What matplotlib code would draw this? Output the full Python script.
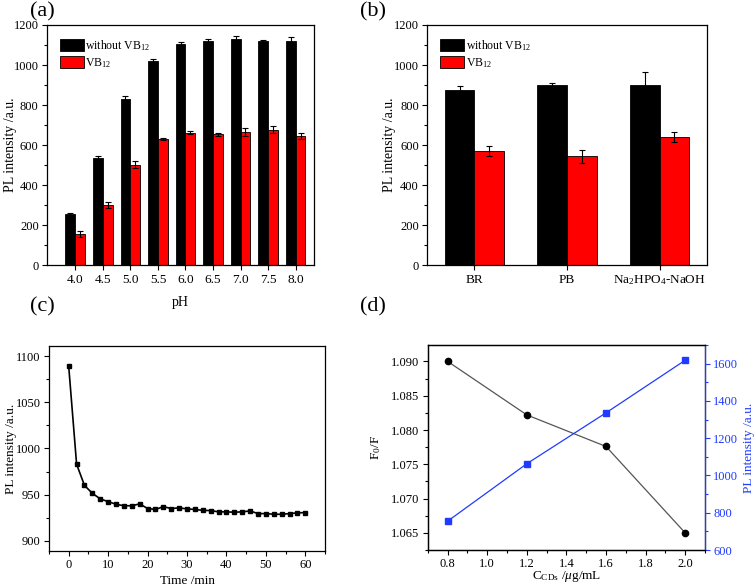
import matplotlib
matplotlib.use("Agg")
import matplotlib.pyplot as plt
import numpy as np
from matplotlib.ticker import MultipleLocator, FormatStrFormatter

plt.rcParams['font.family'] = ['Liberation Serif', 'DejaVu Serif']
plt.rcParams['mathtext.fontset'] = 'custom'
plt.rcParams['mathtext.rm'] = 'Liberation Serif'
plt.rcParams['mathtext.it'] = 'Liberation Serif:italic'
plt.rcParams['font.size'] = 9

# (a) pH
ph_labels = ['4.0', '4.5', '5.0', '5.5', '6.0', '6.5', '7.0', '7.5', '8.0']
ph_without = [255, 536, 828, 1019, 1107, 1119, 1129, 1119, 1120]
ph_without_err = [5, 8, 15, 12, 8, 10, 15, 8, 22]
ph_vb12 = [156, 302, 502, 630, 662, 654, 664, 676, 645]
ph_vb12_err = [17, 15, 18, 5, 7, 7, 20, 17, 17]

# (b) buffer
buffers = ['BR', 'PB', 'Na$_2$HPO$_4$-NaOH']
buf_without = [875, 898, 898]
buf_without_err = [20, 10, 67]
buf_vb12 = [570, 543, 638]
buf_vb12_err = [25, 30, 25]

# (c) time
time_min = [0, 2, 4, 6, 8, 10, 12, 14, 16, 18, 20, 22, 24, 26, 28, 30,
            32, 34, 36, 38, 40, 42, 44, 46, 48, 50, 52, 54, 56, 58, 60]
time_pl = [1089, 983, 960, 951.5, 945.4, 942.5, 939.6, 938, 938, 940, 935,
           934, 937, 935, 935.7, 934.6, 934, 933, 932.8, 931.4, 931.4, 931,
           931.4, 932.4, 929.5, 929.5, 928.8, 928.8, 929.5, 930.3, 930.6]

# (d) concentration
conc = [0.8, 1.2, 1.6, 2.0]
f0_f = [1.090, 1.0822, 1.0776, 1.065]
conc_pl = [755, 1063, 1336, 1618]

fig = plt.figure(figsize=(7.56, 5.88), dpi=100)
ax_a = fig.add_axes([0.0622, 0.549, 0.3528, 0.4085])
ax_b = fig.add_axes([0.565, 0.549, 0.370, 0.4085])
ax_c = fig.add_axes([0.0648, 0.0629, 0.3652, 0.3487])
ax_d = fig.add_axes([0.566, 0.0646, 0.3665, 0.3487])

err_kw = dict(ecolor='black', elinewidth=0.8, capsize=2.5, capthick=0.8)


def bar_panel(ax, labels, y1, e1, y2, e2, width):
    x = np.arange(len(labels))
    ax.bar(x - width / 2, y1, width, yerr=e1, color='black', edgecolor='black',
           linewidth=0.6, error_kw=err_kw, label='without VB$_{12}$')
    ax.bar(x + width / 2, y2, width, yerr=e2, color='#ff0000', edgecolor='black',
           linewidth=0.6, error_kw=err_kw, label='VB$_{12}$')
    ax.set_xticks(x)
    ax.set_xticklabels(labels, fontsize=9.5)
    ax.set_ylim(0, 1200)
    ax.yaxis.set_major_locator(MultipleLocator(200))
    ax.yaxis.set_minor_locator(MultipleLocator(100))
    ax.set_ylabel('PL intensity /a.u.', fontsize=10)
    ax.yaxis.set_label_coords(-0.113, 0.5)
    ax.legend(loc='upper left', frameon=False, fontsize=8.5, handlelength=2.0,
              handleheight=1.2, borderaxespad=0.7, labelspacing=0.3,
              handletextpad=0.15)


bar_panel(ax_a, ph_labels, ph_without, ph_without_err, ph_vb12, ph_vb12_err, 0.36)
ax_a.set_xlim(-1.03, 8.66)
ax_a.set_xlabel('pH', fontsize=10)
ax_a.xaxis.set_label_coords(0.5, -0.127)

bar_panel(ax_b, buffers, buf_without, buf_without_err, buf_vb12, buf_vb12_err, 0.32)
ax_b.set_xlim(-0.51, 2.51)

ax_c.plot(time_min, time_pl, color='black', lw=1.2, marker='s', ms=3)
ax_c.set_xlim(-5, 65)
ax_c.set_ylim(889, 1111)
ax_c.yaxis.set_major_locator(MultipleLocator(50))
ax_c.yaxis.set_minor_locator(MultipleLocator(25))
ax_c.xaxis.set_major_locator(MultipleLocator(10))
ax_c.xaxis.set_minor_locator(MultipleLocator(5))
ax_c.set_xlabel('Time /min', fontsize=9.5)
ax_c.xaxis.set_label_coords(0.5, -0.115)
ax_c.set_ylabel('PL intensity /a.u.', fontsize=9.5)
ax_c.yaxis.set_label_coords(-0.116, 0.5)

blue = '#1f3bff'
ax_d.plot(conc, f0_f, color='#555555', lw=0.9, marker='o', ms=4.5,
          mfc='black', mec='black')
ax_d.set_xlim(0.7, 2.1)
ax_d.set_ylim(1.0625, 1.0924)
ax_d.yaxis.set_major_locator(MultipleLocator(0.005))
ax_d.yaxis.set_minor_locator(MultipleLocator(0.0025))
ax_d.xaxis.set_major_locator(MultipleLocator(0.2))
ax_d.xaxis.set_minor_locator(MultipleLocator(0.1))
ax_d.yaxis.set_major_formatter(FormatStrFormatter('%.3f'))
ax_d.xaxis.set_major_formatter(FormatStrFormatter('%.1f'))
ax_d.set_ylabel('F$_0$/F', fontsize=9.5)
ax_d.yaxis.set_label_coords(-0.162, 0.5)
ax_d.set_xlabel('C$_{\\rm CDs}$ /$\\mathit{\\mu}$g/mL', fontsize=9.5)
ax_d.xaxis.set_label_coords(0.5, -0.093)

ax_d2 = ax_d.twinx()
ax_d2.plot(conc, conc_pl, color=blue, lw=0.9, marker='s', ms=4)
ax_d2.set_ylim(600, 1700)
ax_d2.yaxis.set_major_locator(MultipleLocator(200))
ax_d2.yaxis.set_minor_locator(MultipleLocator(100))
ax_d2.set_ylabel('PL intensity /a.u.', fontsize=9.5, color=blue)
ax_d2.yaxis.set_label_coords(1.137, 0.5)
ax_d2.tick_params(axis='y', which='both', colors=blue)
ax_d2.spines['right'].set_color(blue)

for ax in [ax_a, ax_b, ax_c, ax_d, ax_d2]:
    ax.tick_params(which='major', length=3.5, width=0.8, direction='out', pad=2.5)
    ax.tick_params(which='minor', length=2, width=0.8, direction='out')
    for s in ax.spines.values():
        s.set_linewidth(0.9)

fig.text(0.04, 0.979, '(a)', fontsize=16, va='center')
fig.text(0.476, 0.979, '(b)', fontsize=16, va='center')
fig.text(0.04, 0.478, '(c)', fontsize=16, va='center')
fig.text(0.476, 0.478, '(d)', fontsize=16, va='center')

fig.savefig('out.png', dpi=100)
